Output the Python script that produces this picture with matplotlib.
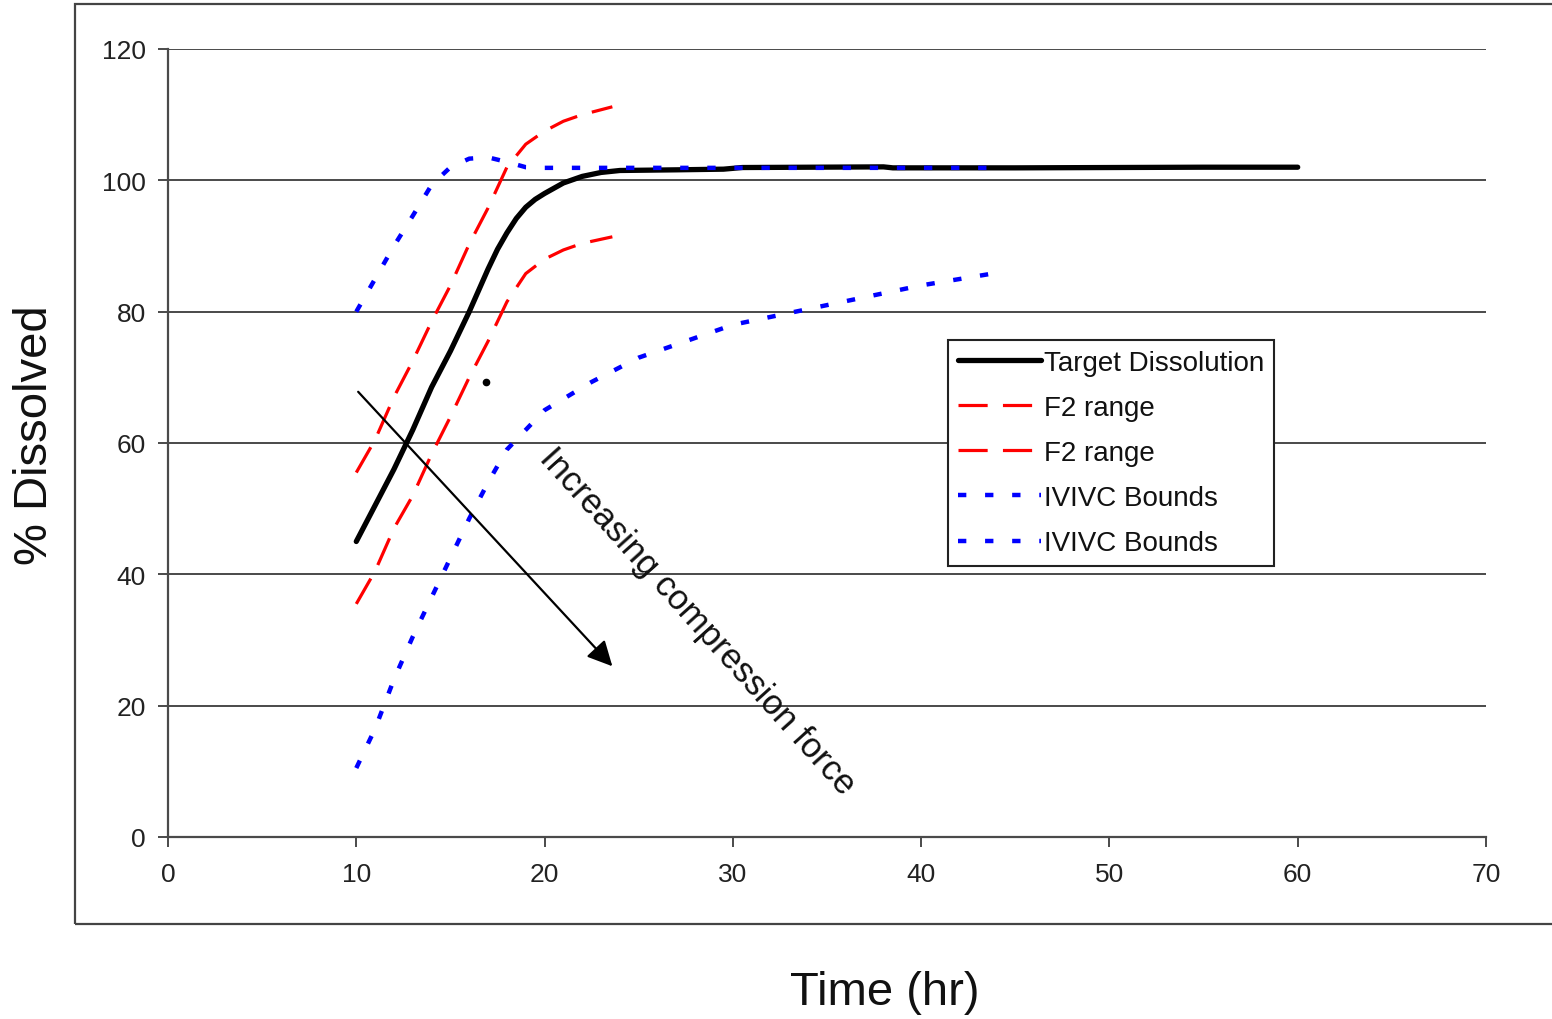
import matplotlib
matplotlib.use("Agg")
import matplotlib.pyplot as plt
from matplotlib.patches import Rectangle, Circle

plt.rcParams['font.family'] = ['Liberation Sans', 'DejaVu Sans']
plt.rcParams['lines.scale_dashes'] = False

# ---- data ----
target_x = [10, 11, 12, 13, 14, 15, 16, 17, 17.5, 18, 18.5, 19, 19.5, 20, 21, 22, 23, 24, 27, 29.5, 30.5, 38, 38.5, 45, 50, 55, 60]
target_y = [45, 50.5, 56, 62, 68.5, 74, 80, 86.5, 89.5, 92, 94.2, 95.9, 97.1, 98, 99.6, 100.6, 101.2, 101.5, 101.6, 101.7, 101.95, 102.05, 101.9, 101.9, 101.95, 102, 102]

f2_upper_x = [10, 11, 12, 13, 14, 15, 16, 17, 18, 19, 20, 21, 22, 23.6]
f2_upper_y = [55.5, 60.5, 67, 72.5, 78.5, 84, 90.3, 95.8, 102, 105.5, 107.5, 109, 110, 111.2]

f2_lower_x = [10, 11, 12, 13, 14, 15, 16, 17, 18, 19, 20, 21, 22, 23.6]
f2_lower_y = [35.5, 40.5, 47, 52, 58.3, 64, 70, 75.5, 81.5, 85.8, 88, 89.4, 90.4, 91.4]

ivivc_upper_x = [10, 11, 12, 13, 14, 15, 16, 17, 18, 19, 20, 30, 44.2]
ivivc_upper_y = [80, 85, 90, 94.6, 99.3, 102, 103.3, 103.5, 102.8, 102, 101.9, 101.9, 101.9]

ivivc_lower_x = [10, 11, 12, 13, 14, 15, 16, 17, 18, 20, 22.5, 25, 30, 35, 40, 44.2]
ivivc_lower_y = [10.5, 16.5, 24, 30.5, 36.5, 42.5, 48.5, 54, 59, 65, 69.3, 73, 78, 81, 84, 86]

stray_point = (16.9, 69.3)
arrow_start = (10.1, 67.8)
arrow_end = (23.6, 26.0)

x_ticks = [0, 10, 20, 30, 40, 50, 60, 70]
y_ticks = [0, 20, 40, 60, 80, 100, 120]

# ---- figure ----
W, H = 1552, 1020
fig = plt.figure(figsize=(W / 100, H / 100), dpi=100)
ax = fig.add_axes([168 / W, 1 - 838 / H, (1486 - 168) / W, (838 - 50) / H])

grid_c = '#4a4a4a'
for yv in y_ticks[1:]:
    ax.axhline(yv, color=grid_c, lw=1.4, zorder=1)

ax.plot(target_x, target_y, color='black', lw=3.8, solid_capstyle='round',
        solid_joinstyle='round', zorder=5, label='Target Dissolution')
ax.plot(f2_upper_x, f2_upper_y, color='#ff0000', lw=2.3, dashes=(21, 11), zorder=4, label='F2 range')
ax.plot(f2_lower_x, f2_lower_y, color='#ff0000', lw=2.3, dashes=(21, 11), zorder=4, label='F2 range')
ax.plot(ivivc_upper_x, ivivc_upper_y, color='#0000ff', lw=3.2, dashes=(6, 13.5), zorder=6, label='IVIVC Bounds')
ax.plot(ivivc_lower_x, ivivc_lower_y, color='#0000ff', lw=3.2, dashes=(6, 13.5), zorder=6, label='IVIVC Bounds')

ax.plot([stray_point[0]], [stray_point[1]], 'o', color='black', ms=4.5, zorder=6)

ax.annotate('', xy=arrow_end, xytext=arrow_start,
            arrowprops=dict(arrowstyle='-|>', color='black', lw=1.6, mutation_scale=38,
                            shrinkA=0, shrinkB=0), zorder=7)
ax.text(28.1, 33.0, 'Increasing compression force', rotation=-48, rotation_mode='anchor',
        ha='center', va='center', fontsize=25, color='#111111', zorder=7)

ax.set_xlim(0, 70)
ax.set_ylim(0, 120)
ax.set_xticks(x_ticks)
ax.set_yticks(y_ticks)
for s in ['top', 'right']:
    ax.spines[s].set_visible(False)
for s in ['left', 'bottom']:
    ax.spines[s].set_color(grid_c)
    ax.spines[s].set_linewidth(1.6)
ax.tick_params(axis='both', colors=grid_c, width=1.4, length=7, labelsize=19,
               labelcolor='#222222')
ax.tick_params(axis='y', pad=9)
ax.tick_params(axis='x', pad=11)

leg = ax.legend(loc='upper left', bbox_to_anchor=(948 / W, 1 - 341 / H),
                bbox_transform=fig.transFigure, borderaxespad=0, fontsize=20,
                fancybox=False, frameon=True, handlelength=3.0, handletextpad=0.1,
                labelspacing=0.69, borderpad=0.35)
leg.get_frame().set_edgecolor('#222222')
leg.get_frame().set_linewidth(1.5)
leg.get_frame().set_alpha(1)
for t in leg.get_texts():
    t.set_color('#111111')

fig.text(35 / W, 1 - 435 / H, '% Dissolved', rotation=90, ha='center', va='center',
         fontsize=34, color='#111111')
fig.text(885 / W, 1 - 993 / H, 'Time (hr)', ha='center', va='center',
         fontsize=34, color='#111111')

# outer frame
fig.patches.append(Rectangle((75 / W, 1 - 925 / H), 2.0, (925 - 5) / H,
                             transform=fig.transFigure, fill=False,
                             edgecolor='#444444', lw=1.6, clip_on=False))
# partial dark circle at bottom edge
fig.patches.append(Circle((1402 / W, 1 - 1043 / H), 26 / W, transform=fig.transFigure,
                          facecolor='#37474f', edgecolor='none', clip_on=False))

fig.savefig('out.png', dpi=100)
